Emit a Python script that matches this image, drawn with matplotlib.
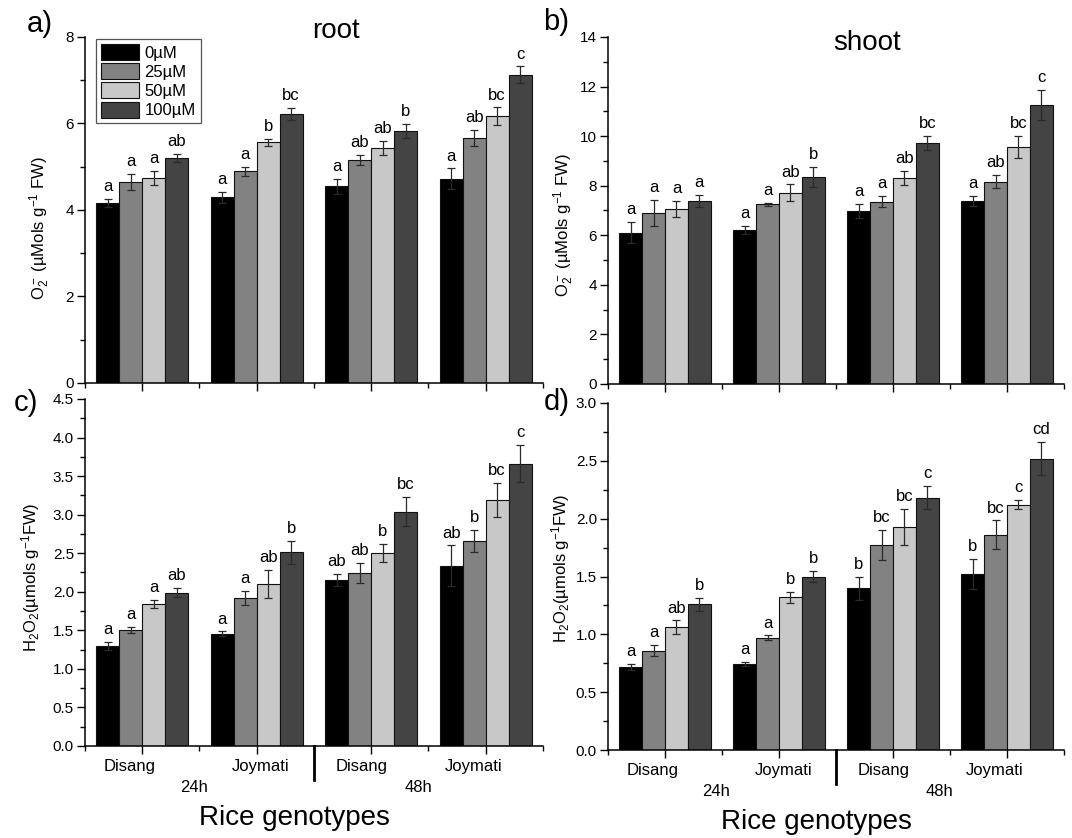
import matplotlib
matplotlib.use("Agg")
import matplotlib.pyplot as plt
import numpy as np
from matplotlib.ticker import MultipleLocator, FixedLocator
from matplotlib.transforms import ScaledTranslation, blended_transform_factory

plt.rcParams['font.family'] = ['Liberation Sans', 'DejaVu Sans']
plt.rcParams['mathtext.fontset'] = 'custom'
plt.rcParams['mathtext.rm'] = 'Liberation Sans'
plt.rcParams['mathtext.it'] = 'Liberation Sans:italic'
plt.rcParams['mathtext.bf'] = 'Liberation Sans:bold'

# groups: Disang 24h, Joymati 24h, Disang 48h, Joymati 48h ; columns = dose
genotypes = ['Disang', 'Joymati', 'Disang', 'Joymati']
times = ['24h', '48h']
doses = ['0µM', '25µM', '50µM', '100µM']
colors = ['#000000', '#828282', '#c8c8c8', '#444444']

root_o2 = [[4.16, 4.64, 4.74, 5.20],
           [4.29, 4.89, 5.56, 6.22],
           [4.55, 5.15, 5.43, 5.82],
           [4.72, 5.67, 6.17, 7.13]]
root_o2_err = [[0.10, 0.19, 0.17, 0.10],
               [0.13, 0.10, 0.08, 0.13],
               [0.17, 0.12, 0.17, 0.16],
               [0.24, 0.19, 0.20, 0.19]]
root_o2_sig = [['a', 'a', 'a', 'ab'],
               ['a', 'a', 'b', 'bc'],
               ['a', 'ab', 'ab', 'b'],
               ['a', 'ab', 'bc', 'c']]

shoot_o2 = [[6.11, 6.89, 7.07, 7.38],
            [6.21, 7.25, 7.72, 8.35],
            [6.99, 7.36, 8.30, 9.73],
            [7.38, 8.16, 9.56, 11.25]]
shoot_o2_err = [[0.42, 0.52, 0.32, 0.23],
                [0.17, 0.07, 0.33, 0.40],
                [0.28, 0.23, 0.28, 0.29],
                [0.20, 0.26, 0.46, 0.60]]
shoot_o2_sig = [['a', 'a', 'a', 'a'],
                ['a', 'a', 'ab', 'b'],
                ['a', 'a', 'ab', 'bc'],
                ['a', 'ab', 'bc', 'c']]

root_h2o2 = [[1.30, 1.50, 1.84, 1.99],
             [1.455, 1.92, 2.10, 2.51],
             [2.15, 2.24, 2.50, 3.04],
             [2.34, 2.66, 3.19, 3.66]]
root_h2o2_err = [[0.05, 0.04, 0.055, 0.06],
                 [0.03, 0.09, 0.18, 0.15],
                 [0.08, 0.13, 0.12, 0.19],
                 [0.26, 0.14, 0.22, 0.24]]
root_h2o2_sig = [['a', 'a', 'a', 'ab'],
                 ['a', 'a', 'ab', 'b'],
                 ['ab', 'ab', 'b', 'bc'],
                 ['ab', 'b', 'bc', 'c']]

shoot_h2o2 = [[0.72, 0.86, 1.06, 1.26],
              [0.745, 0.97, 1.32, 1.50],
              [1.40, 1.77, 1.93, 2.18],
              [1.52, 1.86, 2.12, 2.52]]
shoot_h2o2_err = [[0.025, 0.045, 0.06, 0.055],
                  [0.02, 0.02, 0.045, 0.045],
                  [0.10, 0.13, 0.155, 0.10],
                  [0.13, 0.125, 0.04, 0.14]]
shoot_h2o2_sig = [['a', 'a', 'ab', 'b'],
                  ['a', 'a', 'b', 'b'],
                  ['b', 'bc', 'bc', 'c'],
                  ['b', 'bc', 'c', 'cd']]

o2_label = r'O$_2^-$ (µMols g$^{-1}$ FW)'
h2o2_label = r'H$_2$O$_2$(µmols g$^{-1}$FW)'


def draw_panel(ax, means, errs, sig, ymax, major, ylabel, bottom, ylab_pos):
    means = np.array(means)
    errs = np.array(errs)
    groups = np.arange(1, len(means) + 1)
    w = 0.2
    for i in range(len(doses)):
        xs = groups + (i - 1.5) * w
        ax.bar(xs, means[:, i], width=w, color=colors[i], edgecolor='#111111',
               linewidth=0.8, label=doses[i], zorder=2)
        ax.errorbar(xs, means[:, i], yerr=errs[:, i], fmt='none', ecolor='#2a2a2a',
                    elinewidth=0.9, capsize=3.2, capthick=0.9, zorder=3)
        for x, m, e, s in zip(xs, means[:, i], errs[:, i], [row[i] for row in sig]):
            ax.annotate(s, (x, m + e), xytext=(0, 3.5), textcoords='offset points',
                        ha='center', va='bottom', fontsize=12)

    ax.set_xlim(0.5, 4.5)
    ax.set_ylim(0, ymax)
    ax.yaxis.set_major_locator(MultipleLocator(major))
    ax.yaxis.set_minor_locator(MultipleLocator(major / 2))
    ax.xaxis.set_major_locator(FixedLocator(groups))
    ax.xaxis.set_minor_locator(FixedLocator(np.arange(0.5, 4.6, 1)))
    for side in ['top', 'right']:
        ax.spines[side].set_visible(False)
    for side in ['left', 'bottom']:
        ax.spines[side].set_linewidth(1.1)
    ax.tick_params(which='major', direction='out', length=5.5, width=1.0, labelsize=11, pad=2.5)
    ax.tick_params(which='minor', direction='out', length=3.5, width=1.0)
    ax.tick_params(axis='x', labelsize=12, pad=4)
    ax.set_ylabel(ylabel, fontsize=12)
    ax.yaxis.set_label_coords(*ylab_pos)

    if bottom:
        ax.set_xticklabels(genotypes)
        shifts = [-9, 3, -7, -9]
        for lab, dx in zip(ax.get_xticklabels(), shifts):
            lab.set_transform(lab.get_transform() +
                              ScaledTranslation(dx / 72, 0, ax.figure.dpi_scale_trans))
        tr = blended_transform_factory(ax.transData, ax.transAxes)
        ax.plot([2.5, 2.5], [0, -0.098], transform=tr, color='black', lw=2.0,
                clip_on=False, zorder=5)
        ax.text(1.45, -0.12, times[0], transform=tr, ha='center', va='center', fontsize=12)
        ax.text(3.41, -0.12, times[1], transform=tr, ha='center', va='center', fontsize=12)
        ax.text(2.33, -0.208, 'Rice genotypes', transform=tr, ha='center', va='center',
                fontsize=20)
    else:
        ax.set_xticklabels([])


fig = plt.figure(figsize=(10.72, 8.38), dpi=100)
ax_a = fig.add_axes([0.0793, 0.5430, 0.4272, 0.4129])
ax_b = fig.add_axes([0.5672, 0.5418, 0.4254, 0.4141])
ax_c = fig.add_axes([0.0793, 0.1098, 0.4272, 0.4141])
ax_d = fig.add_axes([0.5672, 0.1050, 0.4254, 0.4141])

draw_panel(ax_a, root_o2, root_o2_err, root_o2_sig, 8, 2, o2_label, False, (-0.072, 0.448))
draw_panel(ax_b, shoot_o2, shoot_o2_err, shoot_o2_sig, 14, 2, o2_label, False, (-0.070, 0.458))
draw_panel(ax_c, root_h2o2, root_h2o2_err, root_h2o2_sig, 4.5, 0.5, h2o2_label, True, (-0.094, 0.487))
draw_panel(ax_d, shoot_h2o2, shoot_h2o2_err, shoot_h2o2_sig, 3.0, 0.5, h2o2_label, True, (-0.079, 0.524))

leg = ax_a.legend(loc='upper left', bbox_to_anchor=(0.024, 0.994), borderaxespad=0,
                  fontsize=12, handlelength=2.3, handleheight=1.1, labelspacing=0.15,
                  handletextpad=0.3, borderpad=0.3, fancybox=False, framealpha=1)
leg.get_frame().set_edgecolor('#555555')
leg.get_frame().set_linewidth(0.9)

fig.text(336 / 1072, 1 - 31 / 838, 'root', ha='center', va='center', fontsize=20)
fig.text(867 / 1072, 1 - 43 / 838, 'shoot', ha='center', va='center', fontsize=20)
fig.text(40 / 1072, 1 - 24 / 838, 'a)', ha='center', va='center', fontsize=21)
fig.text(556 / 1072, 1 - 22 / 838, 'b)', ha='center', va='center', fontsize=21)
fig.text(26 / 1072, 1 - 403 / 838, 'c)', ha='center', va='center', fontsize=21)
fig.text(557 / 1072, 1 - 402 / 838, 'd)', ha='center', va='center', fontsize=21)

fig.savefig('out.png', dpi=100)
